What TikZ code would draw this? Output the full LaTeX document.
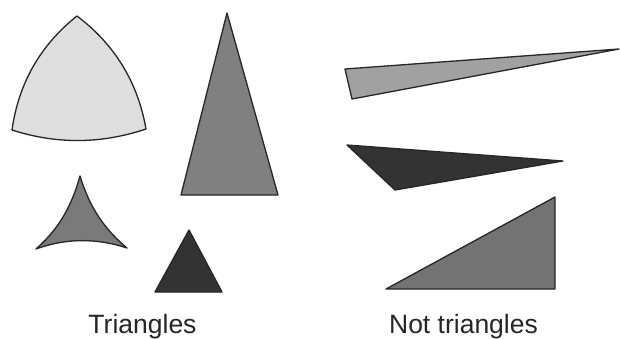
\documentclass[tikz,border=0pt]{standalone}
\usepackage{fontspec}
\setmainfont{Liberation Sans}
\begin{document}
\begin{tikzpicture}[x=1pt,y=-1pt,
  outl/.style={draw=black!85,line width=1.3pt,line join=round},
  lbl/.style={anchor=base,inner sep=0pt,font=\fontsize{26.5}{30}\selectfont,text=black!85}]
\useasboundingbox (0,0) rectangle (620,338);
\fill[white] (0,0) rectangle (620,338);
% Reuleaux-like triangle
\draw[outl,fill=black!13] (77,16) .. controls (40.2,45.3) and (18.6,83.3) .. (12,130)
  .. controls (56.7,144.4) and (101.3,144) .. (146,129)
  .. controls (137.8,82.3) and (114.8,44.6) .. cycle;
% tall triangle
\draw[outl,fill=black!50] (227,13) -- (181,195) -- (278,195) -- cycle;
% concave triangle
\draw[outl,fill=black!52] (80,176) .. controls (70,212) and (55,232) .. (36,249)
  .. controls (66,238) and (97,238) .. (127,248)
  .. controls (108,232) and (91,212) .. cycle;
% small dark triangle
\draw[outl,fill=black!80] (189,230) -- (155,292) -- (222,292) -- cycle;
% thin triangle
\draw[outl,fill=black!37] (345,69) -- (352,99) -- (619,49) -- cycle;
% dark sliver
\draw[outl,fill=black!80] (347,145) -- (395,190) -- (563,161) -- cycle;
% right triangle
\draw[outl,fill=black!55] (386,289) -- (555,197) -- (555,289) -- cycle;
\node[lbl] (t1) at (142.5,333) {Triangles};
\node[lbl] (t2) at (463.5,333) {Not triangles};
\end{tikzpicture}
\end{document}
